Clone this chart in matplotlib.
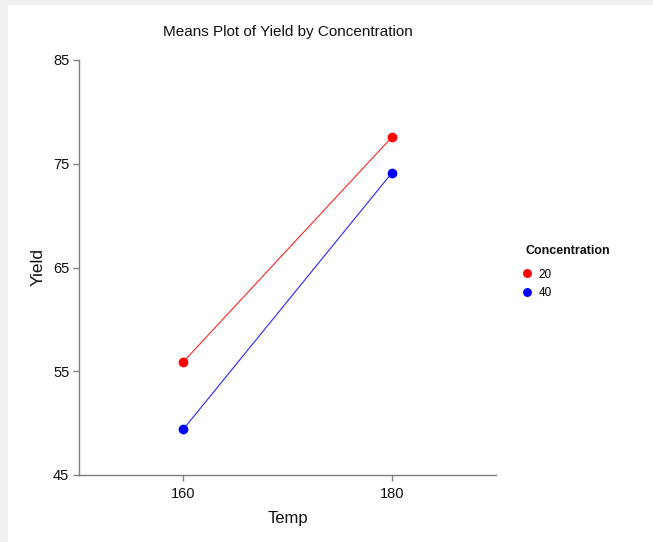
import matplotlib
matplotlib.use("Agg")
import matplotlib.pyplot as plt
from matplotlib.patches import Rectangle

plt.rcParams["font.family"] = ["Liberation Sans", "DejaVu Sans"]

temps = [160, 180]
concentrations = ["20", "40"]
yield_means = {
    "20": [55.9, 77.55],
    "40": [49.4, 74.1],
}
colors = {"20": "#ff0000", "40": "#0000ff"}
y_ticks = [45, 55, 65, 75, 85]
x_ticks = [160, 180]

fig = plt.figure(figsize=(6.53, 5.42), dpi=100, facecolor="#f0f0f0")
# white panel inset from the top and left edges
fig.patches.append(Rectangle((8 / 653, 0), 1, 1 - 5 / 542, transform=fig.transFigure,
                             facecolor="white", edgecolor="none", zorder=-10))

ax = fig.add_axes([79 / 653, 1 - 475 / 542, (496 - 79) / 653, (475 - 60) / 542])
ax.set_facecolor("white")

for c in concentrations:
    ax.plot(temps, yield_means[c], color=colors[c], linewidth=0.8, alpha=0.85, zorder=2)
    ax.plot(temps, yield_means[c], linestyle="none", marker="o", markersize=6,
            color=colors[c], label=c, zorder=3)

ax.set_xlim(150, 190)
ax.set_ylim(45, 85)
ax.set_xticks(x_ticks)
ax.set_yticks(y_ticks)

for side in ["top", "right"]:
    ax.spines[side].set_visible(False)
for side in ["left", "bottom"]:
    ax.spines[side].set_color("#7f7f7f")
    ax.spines[side].set_linewidth(1.0)
ax.tick_params(axis="both", direction="out", length=4, width=1.0, color="#7f7f7f",
               labelsize=10.5, labelcolor="#111111")
ax.tick_params(axis="x", pad=5)
ax.tick_params(axis="y", pad=3)

ax.set_xlabel("Temp", fontsize=12, labelpad=7, color="#111111")
ax.set_ylabel("Yield", fontsize=12.5, labelpad=5, color="#111111")
ax.set_title("Means Plot of Yield by Concentration", fontsize=11, pad=17, color="#111111")

# legend heading drawn separately so the gap to the entries can be set freely
fig.text(525 / 653, 1 - 251 / 542, "Concentration", fontsize=9, fontweight="bold",
         ha="left", va="center", color="#111111")
fig.legend(loc="upper left", bbox_to_anchor=(513 / 653, 1 - 258 / 542),
           frameon=False, fontsize=8.5, handletextpad=0.75, handlelength=0.5,
           labelspacing=0.55, markerscale=0.9)

fig.savefig("out.png", dpi=100, facecolor=fig.get_facecolor())
